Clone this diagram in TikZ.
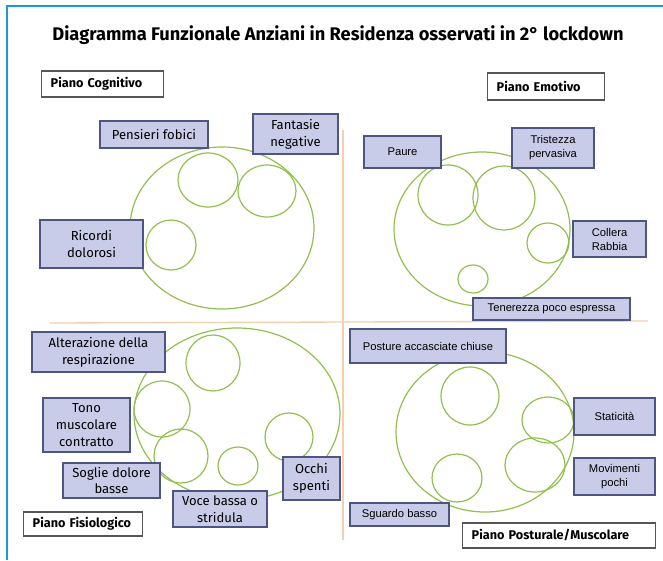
\documentclass[tikz,border=0pt]{standalone}
\usepackage{fontspec}
\setsansfont{Fira Sans}
\newfontfamily\arialfont{Liberation Sans}

\definecolor{cornice}{HTML}{1B9AD8}
\definecolor{riempi}{HTML}{C8CCE8}
\definecolor{bordo}{HTML}{4E5580}
\definecolor{verde}{HTML}{92BF4E}
\definecolor{arancio}{HTML}{F3CFAE}
\definecolor{grigio}{HTML}{555555}

\tikzset{
  boxa/.style={draw=bordo, fill=riempi, line width=1.1pt, align=center, inner sep=0pt,
    font=\sffamily\fontsize{9.8}{12.5}\selectfont},
  boxb/.style={boxa, font=\arialfont\fontsize{8.4}{10.5}\selectfont},
  wh/.style 2 args={minimum width=#1*0.75pt, minimum height=#2*0.75pt},
  piano/.style={draw=grigio, fill=white, line width=1pt, anchor=west, align=left,
    inner xsep=6.75pt, inner ysep=0pt, font=\sffamily\bfseries\fontsize{9.5}{11}\selectfont},
  cerchio/.style={draw=verde, line width=0.9pt},
}

\begin{document}
\begin{tikzpicture}[x=0.75pt,y=0.75pt,yscale=-1,xscale=1]
\useasboundingbox (0,0) rectangle (663,560);

%Shape: Frame
\draw [cornice, line width=2.2pt] (7,560) -- (7,6) -- (663,6) ;
%Straight Lines
\draw [arancio, line width=1pt] (343,130) -- (343,540) ;
\draw [arancio, line width=1pt] (50,323) -- (648,321) ;

%Shape: Ellipse (cognitivo)
\draw [cerchio] (222,228) ellipse [x radius=92, y radius=81] ;
\draw [cerchio] (208,180) ellipse [x radius=30, y radius=27] ;
\draw [cerchio] (267,191) ellipse [x radius=29, y radius=26] ;
\draw [cerchio] (171,245) ellipse [x radius=25, y radius=25] ;

%Shape: Ellipse (emotivo)
\draw [cerchio] (482,229) ellipse [x radius=88, y radius=77] ;
\draw [cerchio] (448,195) ellipse [x radius=30, y radius=30] ;
\draw [cerchio] (504,198) ellipse [x radius=31, y radius=32] ;
\draw [cerchio] (548,243) ellipse [x radius=21, y radius=20] ;
\draw [cerchio] (473,279) ellipse [x radius=15, y radius=14] ;

%Shape: Ellipse (fisiologico)
\draw [cerchio] (237,414) ellipse [x radius=103, y radius=86] ;
\draw [cerchio] (213,363) ellipse [x radius=27, y radius=28] ;
\draw [cerchio] (162,409) ellipse [x radius=28, y radius=28] ;
\draw [cerchio] (181,456) ellipse [x radius=27, y radius=27] ;
\draw [cerchio] (238,466) ellipse [x radius=20, y radius=19] ;
\draw [cerchio] (289,437) ellipse [x radius=24, y radius=24] ;

%Shape: Ellipse (posturale)
\draw [cerchio] (485,432) ellipse [x radius=89, y radius=80] ;
\draw [cerchio] (470,396) ellipse [x radius=29, y radius=29] ;
\draw [cerchio] (548,420) ellipse [x radius=26, y radius=23] ;
\draw [cerchio] (535,465) ellipse [x radius=30, y radius=27] ;
\draw [cerchio] (457,478) ellipse [x radius=25, y radius=24] ;

% Text Node
\draw (338,35) node [font=\sffamily\bfseries\fontsize{13.7}{16}\selectfont] (titolo) {Diagramma Funzionale Anziani in Residenza osservati in 2° lockdown};

% Text Node
\draw (41,84) node [piano, text width=78pt, minimum height=19.5pt] (cognitivo) {Piano Cognitivo};
% Text Node
\draw (487,86.5) node [piano, text width=74.25pt, minimum height=20.25pt] (emotivo) {Piano Emotivo};
% Text Node
\draw (23,524) node [piano, text width=75.75pt, minimum height=18pt] (fisiologico) {Piano Fisiologico};
% Text Node
\draw (462,535.5) node [piano, text width=131.25pt, minimum height=18.75pt] (posturale) {Piano Posturale/Muscolare};

% Text Node
\draw (154,134.5) node [boxa, wh={108}{27}] (pensieri) {Pensieri fobici};
% Text Node
\draw (295.5,134) node [boxa, wh={85}{40}] (fantasie) {Fantasie\\negative};
% Text Node
\draw (91.5,244) node [boxa, wh={103}{48}] (ricordi) {Ricordi\\dolorosi};

% Text Node
\draw (402.5,152) node [boxb, wh={77}{32}] (paure) {Paure};
% Text Node
\draw (553,148) node [boxb, wh={82}{40}] (tristezza) {Tristezza\\pervasiva};
% Text Node
\draw (609.5,239) node [boxb, wh={73}{36}] (collera) {Collera\\Rabbia};
% Text Node
\draw (551.5,309) node [boxb, wh={157}{22}] (tenerezza) {Tenerezza poco espressa};

% Text Node
\draw (98.5,352) node [boxa, wh={133}{40}] (alterazione) {Alterazione della\\respirazione};
% Text Node
\draw (86.5,425) node [boxa, wh={87}{54}] (tono) {Tono\\muscolare\\contratto};
% Text Node
\draw (111.5,480.5) node [boxa, wh={97}{35}] (soglie) {Soglie dolore\\basse};
% Text Node
\draw (220,509) node [boxa, wh={94}{36}] (voce) {Voce bassa o\\stridula};
% Text Node
\draw (311.5,478.5) node [boxa, wh={57}{43}] (occhi) {Occhi\\spenti};

% Text Node
\draw (428,346) node [boxb, wh={156}{34}] (posture) {Posture accasciate chiuse};
% Text Node
\draw (614.5,416.5) node [boxb, wh={81}{37}] (staticita) {Staticità};
% Text Node
\draw (614.5,476.5) node [boxb, wh={81}{37}] (movimenti) {Movimenti\\pochi};
% Text Node
\draw (399.5,514.5) node [boxb, wh={99}{23}] (sguardo) {Sguardo basso};

\end{tikzpicture}
\end{document}
